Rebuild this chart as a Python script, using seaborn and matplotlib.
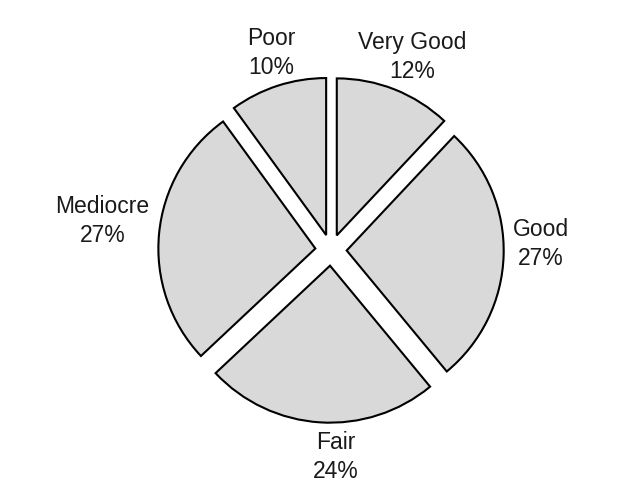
import numpy as np
import seaborn as sns
import matplotlib.pyplot as plt

# ratings in drawing order, clockwise from 12 o'clock
categories = ["Very Good", "Good", "Fair", "Mediocre", "Poor"]
percents = [12, 27, 24, 27, 10]

sns.set_theme(style="white")
plt.rcParams['font.family'] = ['Liberation Sans', 'DejaVu Sans']

fig = plt.figure(figsize=(6.42, 4.96), dpi=100)
ax = fig.add_axes([0, 0, 1, 1])

labels = [f"{c}\n{p}%" for c, p in zip(categories, percents)]
explode = [0.1] * len(percents)

wedges, texts = ax.pie(percents, labels=labels, explode=explode,
                       startangle=90, counterclock=False,
                       colors=["#d9d9d9"] * len(percents),
                       wedgeprops=dict(edgecolor="black", linewidth=1.5),
                       labeldistance=1.24,
                       textprops=dict(fontsize=16.5, color="#1a1a1a",
                                      linespacing=1.35))

# tidy up label placement: centered above/below, flush beside the pie on the sides
for w, t in zip(wedges, texts):
    mid = np.deg2rad((w.theta1 + w.theta2) / 2)
    c, s = np.cos(mid), np.sin(mid)
    t.set_multialignment("center")
    t.set_va("center")
    if abs(c) > 0.9:
        t.set_ha("left" if c > 0 else "right")
        t.set_position(((0.1 + 1.06) * c, (0.1 + 1.06) * s + 0.075))
    elif s < -0.9:
        t.set_ha("center")
        t.set_position((0.03, (0.1 + 1.22) * s))
    else:
        t.set_ha("center")
        t.set_position(((0.1 + 1.22) * c + 0.03, (0.1 + 1.22) * s))

r = 157
ax.set_aspect("equal")
ax.set_xlim(-331 / r, 311 / r)
ax.set_ylim(-246 / r, 250 / r)
ax.axis("off")

fig.savefig("out.png", dpi=100)
